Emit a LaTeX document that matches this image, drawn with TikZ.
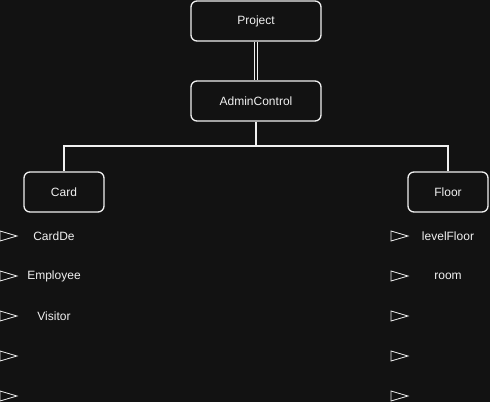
\documentclass[tikz,border=0pt]{standalone}
\usepackage{fontspec}
\setmainfont{Liberation Sans}
\usetikzlibrary{positioning}
\definecolor{bg}{RGB}{18,18,18}
\definecolor{fg}{RGB}{240,240,240}
\tikzset{
  box/.style={draw=fg, fill=bg, line width=1.3pt, rounded corners=6pt,
    minimum height=40pt, text=fg, font=\fontsize{12}{14}\selectfont},
  item/.style={text=fg, font=\fontsize{12}{14}\selectfont, inner sep=1pt},
  tri/.style={draw=fg, line width=0.8pt},
  link/.style={draw=fg, line width=1.3pt}
}
\begin{document}
\begin{tikzpicture}[x=1pt, y=-1pt]
\useasboundingbox[fill=bg] (0,0) rectangle (490,402);
% Kaesten
\node[box, minimum width=130pt] (project) at (256,21)  {Project};
\node[box, minimum width=130pt] (admin)   at (256,101) {AdminControl};
\node[box, minimum width=80pt]  (card)    at (64,192)  {Card};
\node[box, minimum width=80pt]  (floor)   at (448,192) {Floor};
% Verbindungen
\draw[fg, line width=0.9pt, double=bg, double distance=2.2pt] (project.south) -- (admin.north);
\coordinate (fork) at (256,146);
\draw[link] (admin.south) -- (fork);
\draw[link] (fork) -| (card.north);
\draw[link] (fork) -| (floor.north);
% Dreiecke
\foreach \y in {236,276,316,356,396} {
  \draw[tri] (0,\y-5) -- (17,\y) -- (0,\y+5) -- cycle;
  \draw[tri] (391,\y-5) -- (408,\y) -- (391,\y+5) -- cycle;
}
% Eintraege
\node[item] (cardde)   at (54,236)  {CardDe};
\node[item] (employee) at (54,276)  {Employee};
\node[item] (visitor)  at (54,316)  {Visitor};
\node[item] (level)    at (448,236) {levelFloor};
\node[item] (room)     at (448,276) {room};
\end{tikzpicture}
\end{document}
